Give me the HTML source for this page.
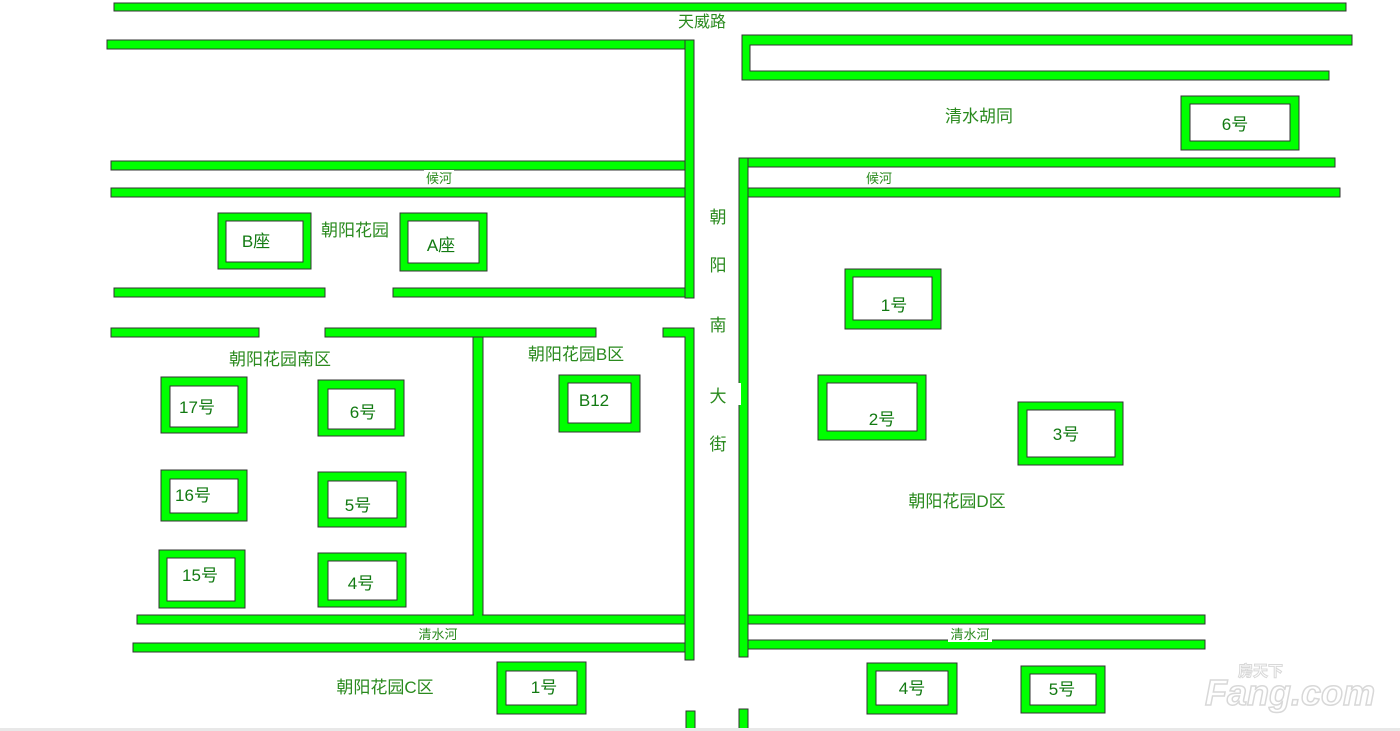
<!DOCTYPE html>
<html><head><meta charset="utf-8"><style>
html,body{margin:0;padding:0;background:#fff;}
svg{display:block;font-family:"Liberation Sans","Noto Sans CJK SC",sans-serif;}
.g{fill:#00ff00;stroke:#333;stroke-width:1;}
.w{fill:#fff;stroke:#333;stroke-width:1;}
text{fill:#2a8a1e;}
.a{font-size:17px;text-anchor:middle;}
.b{font-size:17px;text-anchor:middle;fill:#127a12;}
.s{font-size:13px;text-anchor:middle;}
</style></head><body>
<svg width="1400" height="731" viewBox="0 0 1400 731">
<!-- roads -->
<rect class="g" x="114" y="3" width="1232" height="8"/>
<rect class="g" x="107" y="40" width="587" height="9"/>
<rect class="g" x="685" y="40" width="9" height="258"/>
<rect class="g" x="111" y="161" width="574" height="9"/>
<rect class="g" x="111" y="188" width="574" height="9"/>
<rect class="g" x="114" y="288" width="211" height="9"/>
<rect class="g" x="393" y="288" width="292" height="9"/>
<rect x="686" y="41" width="7" height="256" fill="#00ff00"/>
<path class="g" d="M742 35 H1352 V45 H750 V71 H1329 V80 H742 Z"/>
<rect class="g" x="739" y="158" width="9" height="499"/>
<rect class="g" x="748" y="158" width="587" height="9"/>
<rect class="g" x="748" y="188" width="592" height="9"/>
<rect class="g" x="748" y="615" width="457" height="9"/>
<rect class="g" x="748" y="640" width="457" height="9"/>
<rect x="738" y="383" width="3" height="22" fill="#fff"/>
<rect class="g" x="111" y="328" width="148" height="9"/>
<rect class="g" x="325" y="328" width="271" height="9"/>
<rect class="g" x="473" y="337" width="10" height="278"/>
<path class="g" d="M663 328 H694 V660 H685 V337 H663 Z"/>
<rect class="g" x="137" y="615" width="548" height="9"/>
<rect class="g" x="133" y="643" width="552" height="9"/>
<rect x="474" y="614" width="8" height="3" fill="#00ff00"/>
<rect class="g" x="686" y="711" width="9" height="22"/>
<rect class="g" x="739" y="709" width="9" height="24"/>
<rect x="0" y="728" width="1400" height="3" fill="#e8e8e8"/>
<!-- buildings -->
<g>
<rect class="g" x="1181" y="96" width="118" height="54"/><rect class="w" x="1190" y="104" width="100" height="37"/>
<rect class="g" x="218" y="213" width="93" height="56"/><rect class="w" x="226" y="221" width="77" height="41"/>
<rect class="g" x="400" y="213" width="87" height="58"/><rect class="w" x="408" y="221" width="71" height="42"/>
<rect class="g" x="845" y="269" width="96" height="60"/><rect class="w" x="853" y="277" width="79" height="43"/>
<rect class="g" x="818" y="375" width="108" height="65"/><rect class="w" x="827" y="383" width="90" height="48"/>
<rect class="g" x="1018" y="402" width="105" height="63"/><rect class="w" x="1027" y="410" width="88" height="47"/>
<rect class="g" x="161" y="377" width="86" height="56"/><rect class="w" x="170" y="386" width="68" height="41"/>
<rect class="g" x="318" y="380" width="86" height="56"/><rect class="w" x="328" y="389" width="67" height="40"/>
<rect class="g" x="559" y="375" width="81" height="57"/><rect class="w" x="568" y="383" width="63" height="40"/>
<rect class="g" x="161" y="470" width="86" height="51"/><rect class="w" x="170" y="479" width="68" height="34"/>
<rect class="g" x="318" y="472" width="88" height="55"/><rect class="w" x="328" y="481" width="69" height="37"/>
<rect class="g" x="159" y="550" width="86" height="58"/><rect class="w" x="167" y="558" width="68" height="43"/>
<rect class="g" x="318" y="553" width="88" height="54"/><rect class="w" x="328" y="561" width="69" height="39"/>
<rect class="g" x="497" y="662" width="89" height="52"/><rect class="w" x="506" y="671" width="71" height="34"/>
<rect class="g" x="867" y="663" width="90" height="51"/><rect class="w" x="876" y="671" width="72" height="34"/>
<rect class="g" x="1021" y="666" width="84" height="47"/><rect class="w" x="1030" y="674" width="66" height="31"/>
</g>
<!-- building labels -->
<text class="b" x="1235" y="130">6号</text>
<text class="b" x="256" y="247">B座</text>
<text class="b" x="441" y="251">A座</text>
<text class="b" x="894" y="311">1号</text>
<text class="b" x="882" y="425">2号</text>
<text class="b" x="1066" y="440">3号</text>
<text class="b" x="197" y="413">17号</text>
<text class="b" x="363" y="418">6号</text>
<text class="b" x="594" y="406">B12</text>
<text class="b" x="193" y="501">16号</text>
<text class="b" x="358" y="511">5号</text>
<text class="b" x="200" y="581">15号</text>
<text class="b" x="361" y="589">4号</text>
<text class="b" x="544" y="693">1号</text>
<text class="b" x="912" y="694">4号</text>
<text class="b" x="1062" y="695">5号</text>
<!-- road labels -->
<text class="a" x="702" y="27" style="font-size:16px">天威路</text>
<rect x="424" y="170" width="30" height="17" fill="#fff"/><text class="s" x="439" y="183">候河</text>
<rect x="865" y="170" width="30" height="17" fill="#fff"/><text class="s" x="879" y="183">候河</text>
<rect x="416" y="626" width="44" height="16" fill="#fff"/><text class="s" x="438" y="639">清水河</text>
<rect x="948" y="626" width="44" height="16" fill="#fff"/><text class="s" x="970" y="639">清水河</text>
<text class="a" x="718" y="223">朝</text>
<text class="a" x="718" y="271">阳</text>
<text class="a" x="718" y="331">南</text>
<text class="a" x="718" y="402">大</text>
<text class="a" x="718" y="450">街</text>
<!-- area labels -->
<text class="a" x="979" y="122">清水胡同</text>
<text class="a" x="355" y="236">朝阳花园</text>
<text class="a" x="280" y="365">朝阳花园南区</text>
<text class="a" x="576" y="360">朝阳花园B区</text>
<text class="a" x="957" y="507">朝阳花园D区</text>
<text class="a" x="385" y="693">朝阳花园C区</text>
<!-- watermark -->
<text x="1205" y="705" style="font-size:36px;font-weight:bold;fill:#fff;stroke:#d8d8d8;stroke-width:1.5;font-style:italic">Fang.com</text>
<text x="1238" y="676" style="font-size:15px;font-weight:bold;fill:#fff;stroke:#d8d8d8;stroke-width:1">房天下</text>
</svg>
</body></html>
